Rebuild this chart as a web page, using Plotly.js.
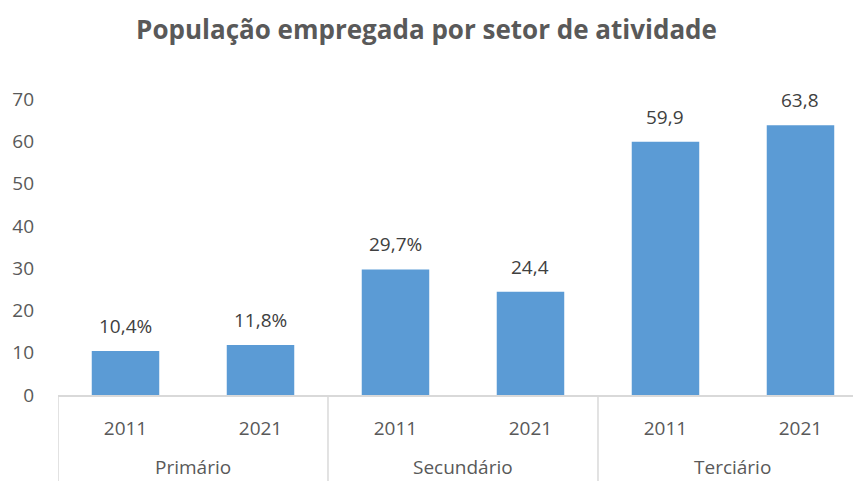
<!DOCTYPE html>
<html><head><meta charset="utf-8">
<script src="https://cdn.plot.ly/plotly-3.0.1.min.js"></script>
<style>html,body{margin:0;padding:0;background:#fff}#chart{width:853px;height:481px}</style>
</head><body><div id="chart"></div>
<script>
const sectors = ["Primário","Primário","Secundário","Secundário","Terciário","Terciário"];
const years = ["2011","2021","2011","2021","2011","2021"];
const values = [10.4, 11.8, 29.7, 24.4, 59.9, 63.8];
const labels = ["10,4%","11,8%","29,7%","24,4","59,9","63,8"];
const yTicks = [0,10,20,30,40,50,60,70];

const font = "Open Sans, Noto Sans, sans-serif";
const idx = values.map((v, i) => i);

// group sectors
const groups = [];
sectors.forEach((s, i) => {
  const g = groups.find(g => g.name === s);
  if (g) g.end = i; else groups.push({name: s, start: i, end: i});
});

const annotations = values.map((v, i) => ({
  x: i, y: v, xref: "x", yref: "y", text: labels[i], showarrow: false,
  yanchor: "bottom", yshift: 10,
  font: {family: font, size: 19, color: "#404040"}
})).concat(groups.map(g => ({
  x: (g.start + g.end) / 2, y: 0, xref: "x", yref: "paper", text: g.name, showarrow: false,
  yanchor: "bottom", yshift: -86, borderpad: 0,
  font: {family: font, size: 19, color: "#595959"}
})));

const shapes = groups.map(g => ({
  type: "line", xref: "x", yref: "paper", x0: g.start - 0.5, x1: g.start - 0.5, y0: 0, y1: -0.3,
  line: {color: "#d9d9d9", width: 1.5}
}));

Plotly.newPlot("chart", [{
  type: "bar",
  x: idx,
  y: values,
  marker: {color: "#5b9bd5", line: {width: 0}},
  width: 0.5,
  hoverinfo: "none"
}], {
  width: 853, height: 481,
  margin: {l: 58, r: 0, t: 99, b: 86},
  paper_bgcolor: "#fff", plot_bgcolor: "#fff",
  showlegend: false,
  annotations: annotations,
  shapes: shapes,
  title: {text: "<b>População empregada por setor de atividade</b>", x: 0.5, xanchor: "center", y: 0.938, yanchor: "middle",
    font: {family: font, size: 26, color: "#595959"}},
  xaxis: {range: [-0.5, 5.389], tickvals: idx, ticktext: years, showline: true, linecolor: "#d9d9d9", linewidth: 1.5,
    ticklabelstandoff: 16,
    tickfont: {family: font, size: 19, color: "#595959"}, showgrid: false, zeroline: false, ticks: ""},
  yaxis: {range: [0, 70], tickvals: yTicks, showgrid: false, zeroline: false, showline: false, ticks: "",
    ticklabelstandoff: 23,
    tickfont: {family: font, size: 19, color: "#595959"}}
}, {displayModeBar: false, staticPlot: true});
</script></body></html>
